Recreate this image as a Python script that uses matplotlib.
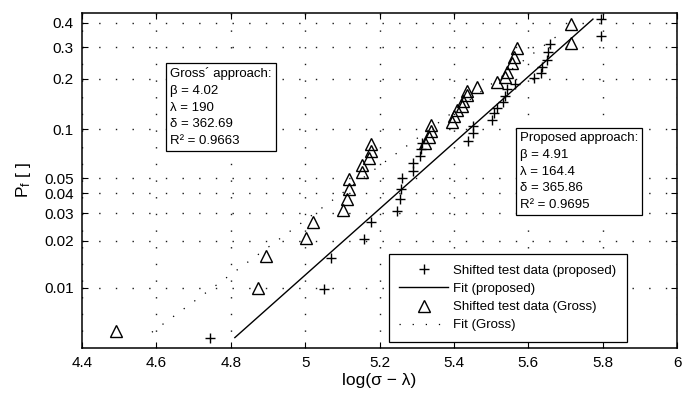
import numpy as np
import matplotlib
matplotlib.use("Agg")
import matplotlib.pyplot as plt

plt.rcParams['font.family'] = ['Liberation Sans', 'DejaVu Sans']
plt.rcParams['mathtext.fontset'] = 'custom'
plt.rcParams['mathtext.rm'] = 'Liberation Sans'
plt.rcParams['mathtext.it'] = 'Liberation Sans:italic'

# shifted test data, proposed approach (log(sigma - lambda), Pf)
prop_x = [4.744, 5.051, 5.070, 5.158, 5.177, 5.247, 5.255, 5.258, 5.260, 5.290,
          5.290, 5.309, 5.312, 5.314, 5.438, 5.451, 5.451, 5.502, 5.508, 5.516,
          5.532, 5.537, 5.543, 5.564, 5.615, 5.634, 5.637, 5.650, 5.653, 5.658,
          5.796, 5.796]
prop_p = [0.0048, 0.0099, 0.0156, 0.0206, 0.0264, 0.0310, 0.0369, 0.0427, 0.0500, 0.0553,
          0.0621, 0.0686, 0.0758, 0.0826, 0.0850, 0.0952, 0.1050, 0.1142, 0.1259, 0.1349,
          0.1464, 0.1589, 0.1746, 0.1868, 0.2024, 0.2160, 0.2337, 0.2555, 0.2827, 0.3121,
          0.3437, 0.4182]

# shifted test data, Gross approach
gross_x = [4.491, 4.873, 4.895, 5.002, 5.021, 5.102, 5.113, 5.118, 5.118, 5.153,
           5.153, 5.172, 5.177, 5.177, 5.322, 5.333, 5.338, 5.338, 5.395, 5.400,
           5.408, 5.422, 5.424, 5.435, 5.435, 5.462, 5.516, 5.537, 5.543, 5.556,
           5.562, 5.570, 5.715, 5.715]
gross_p = [0.0053, 0.0100, 0.0160, 0.0209, 0.0264, 0.0314, 0.0369, 0.0427, 0.0493, 0.0545,
           0.0603, 0.0667, 0.0737, 0.0814, 0.0826, 0.0899, 0.0979, 0.1065, 0.1110, 0.1207,
           0.1312, 0.1385, 0.1485, 0.1611, 0.1700, 0.1794, 0.1918, 0.2049, 0.2189, 0.2459,
           0.2654, 0.2970, 0.3158, 0.3954]

# fitted lines (end points)
fit_prop_x = [4.811, 5.774]
fit_prop_p = [0.0048, 0.418]
fit_gross_x = [4.588, 5.685]
fit_gross_p = [0.0052, 0.352]

xticks = [4.4, 4.6, 4.8, 5.0, 5.2, 5.4, 5.6, 5.8, 6.0]
xticklabels = ['4.4', '4.6', '4.8', '5', '5.2', '5.4', '5.6', '5.8', '6']
yticks = [0.01, 0.02, 0.03, 0.04, 0.05, 0.1, 0.2, 0.3, 0.4]
yticklabels = ['0.01', '0.02', '0.03', '0.04', '0.05', '0.1', '0.2', '0.3', '0.4']

gross_txt = "Gross\u00b4 approach:\n\u03b2 = 4.02\n\u03bb = 190\n\u03b4 = 362.69\nR\u00b2 = 0.9663"
prop_txt = "Proposed approach:\n\u03b2 = 4.91\n\u03bb = 164.4\n\u03b4 = 365.86\nR\u00b2 = 0.9695"


def weib(p):
    p = np.clip(np.asarray(p, dtype=float), 1e-12, 1 - 1e-12)
    return np.log(-np.log(1 - p))


def weib_inv(t):
    return 1 - np.exp(-np.exp(t))


fig = plt.figure(figsize=(6.92, 3.94), dpi=100)
ax = fig.add_axes([82 / 692, 1 - 348 / 394, 595 / 692, 335 / 394])
ax.set_yscale('function', functions=(weib, weib_inv))

ax.plot(prop_x, prop_p, '+', color='black', ms=7, mew=1.0,
        label='Shifted test data (proposed)')
ax.plot(fit_prop_x, fit_prop_p, '-', color='black', lw=1.0, label='Fit (proposed)')
ax.plot(gross_x, gross_p, '^', color='black', mfc='none', ms=8.5, mew=1.0,
        label='Shifted test data (Gross)')
ax.plot(fit_gross_x, fit_gross_p, color='black', lw=0.9,
        linestyle=(0, (1, 9.5)), label='Fit (Gross)')

ax.set_xlim(4.4, 6.0)
ax.set_ylim(0.004116, 0.447)
ax.set_xticks(xticks)
ax.set_xticklabels(xticklabels)
ax.set_yticks(yticks)
ax.set_yticklabels(yticklabels)
ax.yaxis.set_minor_locator(matplotlib.ticker.NullLocator())
ax.xaxis.set_minor_locator(matplotlib.ticker.NullLocator())

ax.grid(True, color='0.1', linestyle=(0, (1, 11)), lw=1.0)
ax.tick_params(direction='in', top=True, right=True, length=4, width=0.8,
               labelsize=11, pad=6)
for s in ax.spines.values():
    s.set_linewidth(1.1)

ax.set_xlabel('log(\u03c3 \u2212 \u03bb)', fontsize=12.5, labelpad=2)
ax.set_ylabel(r'P$_\mathrm{f}$ [ ]', fontsize=12.5, labelpad=8)

box = dict(boxstyle='square,pad=0.3', fc='white', ec='black', lw=0.9)
ax.text(0.148, 0.838, gross_txt, transform=ax.transAxes, fontsize=9.5,
        linespacing=1.52, va='top', ha='left', bbox=box)
ax.text(0.736, 0.644, prop_txt, transform=ax.transAxes, fontsize=9.5,
        linespacing=1.52, va='top', ha='left', bbox=box)

leg = ax.legend(loc='lower right', bbox_to_anchor=(0.916, 0.018), fontsize=9.5,
                frameon=True, fancybox=False, framealpha=1, edgecolor='black',
                handlelength=3.7, handletextpad=0.4, labelspacing=0.45,
                borderpad=0.8, borderaxespad=0)
leg.get_frame().set_linewidth(0.9)

fig.savefig('out.png', dpi=100)
